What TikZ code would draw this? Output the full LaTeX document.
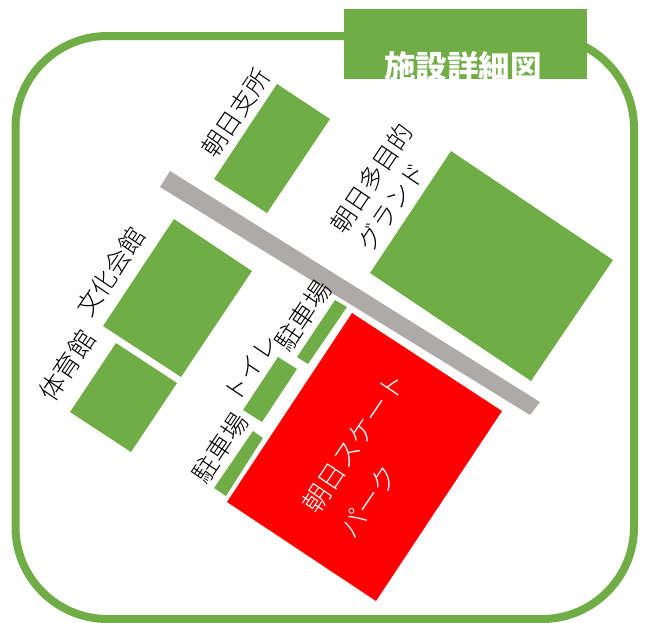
\documentclass[tikz,border=0pt]{standalone}
\usepackage{fontspec}
\setmainfont{Noto Sans CJK JP}
\newfontfamily\lightjp{Noto Sans CJK JP Light}
\definecolor{grn}{HTML}{70AD47}
\definecolor{road}{HTML}{AEAAAA}
\tikzset{
  x=1pt,y=-1pt,
  bld/.style={fill=grn,draw=none},
  lbl/.style={rotate=56,inner sep=0pt,font=\lightjp\fontsize{25}{32}\selectfont},
}
\begin{document}
\begin{tikzpicture}
\useasboundingbox (0,0) rectangle (647,622);
\draw[grn,line width=8pt,rounded corners=92pt] (15.5,36) rectangle (634,619);
\fill[grn] (344,9) rectangle (587,79);
\node[white,font=\fontsize{31.5}{36}\selectfont\bfseries,inner sep=0pt] (title) at (463,66) {施設詳細図};
\fill[road] (170,171) -- (540,402) -- (530,415) -- (160,187) -- cycle;
\fill[bld] (277,84) -- (330,119) -- (267,213) -- (214,179) -- cycle;
\fill[bld] (451,151) -- (613,260) -- (531,381) -- (370,273) -- cycle;
\fill[bld] (174,219) -- (252,271) -- (181,377) -- (103,326) -- cycle;
\fill[bld] (116,343) -- (177,383) -- (131,452) -- (70,412) -- cycle;
\fill[bld] (335,300) -- (347,307) -- (308,364) -- (297,357) -- cycle;
\fill[bld] (278,357) -- (297,369) -- (262,422) -- (243,410) -- cycle;
\fill[bld] (253,431) -- (263,438) -- (226,496) -- (214,488) -- cycle;
\fill[red] (352,313) -- (502,411) -- (376,601) -- (227,502) -- cycle;
\node[lbl] (shisho) at (236,113) {朝日支所};
\node[lbl,align=left] (ground) at (385,187) {朝日多目的\\グランド};
\node[lbl] (bunka) at (111,272) {文化会館};
\node[lbl,font=\lightjp\fontsize{26}{32}\selectfont] (taiiku) at (67,366) {体育館};
\node[lbl,font=\lightjp\fontsize{26}{32}\selectfont] (pk1) at (303,316) {駐車場};
\node[lbl] (toilet) at (251,368) {トイレ};
\node[lbl,font=\lightjp\fontsize{25.5}{32}\selectfont] (pk2) at (220,448) {駐車場};
\node[lbl,white,align=left,font=\lightjp\fontsize{27}{45}\selectfont] (skate) at (372,455) {朝日スケート\\パーク};
\end{tikzpicture}
\end{document}
